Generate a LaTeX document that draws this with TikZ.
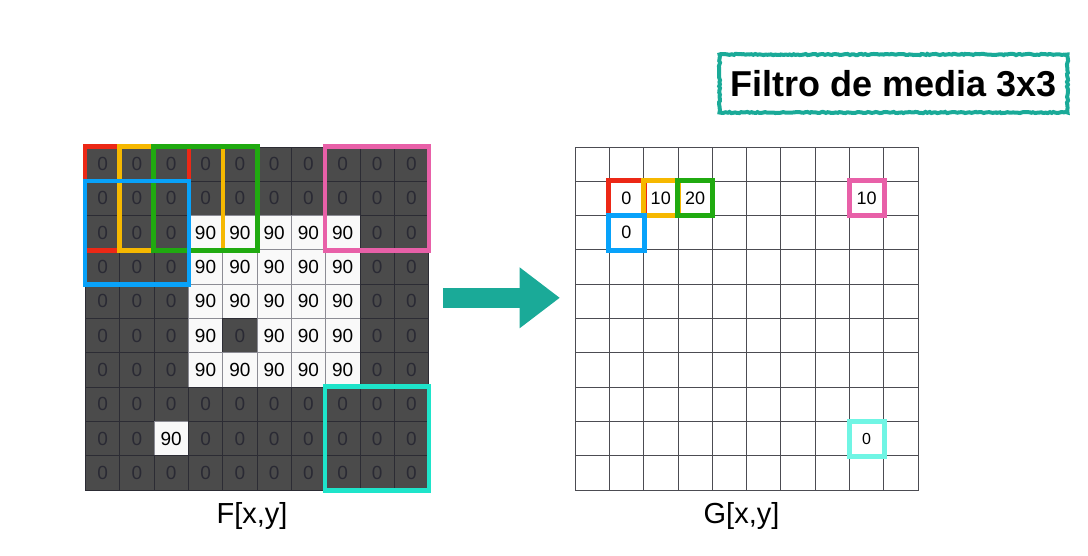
\documentclass[tikz,border=0pt]{standalone}
\usepackage{fontspec}
\setmainfont{Liberation Sans}
\usetikzlibrary{arrows.meta}
\usetikzlibrary{decorations.pathmorphing}
\definecolor{cellgray}{RGB}{75,75,75}
\definecolor{cellline}{RGB}{44,44,52}
\definecolor{celltext}{RGB}{42,42,52}
\definecolor{cellwhite}{RGB}{249,249,249}
\definecolor{whiteline}{RGB}{140,140,148}
\definecolor{wred}{RGB}{236,40,22}
\definecolor{worange}{RGB}{246,184,0}
\definecolor{wgreen}{RGB}{32,170,16}
\definecolor{wblue}{RGB}{8,162,250}
\definecolor{wpink}{RGB}{232,96,168}
\definecolor{wcyan}{RGB}{30,228,202}
\definecolor{wcyanlight}{RGB}{112,245,228}
\definecolor{teal}{RGB}{26,170,152}
\tikzstyle{fdark} = [draw=cellline,fill=cellgray,text=celltext,line width=0.8pt,inner sep=0pt,minimum size=34.3pt,font=\fontsize{19}{22}\selectfont]
\tikzstyle{flight} = [draw=whiteline,fill=cellwhite,text=black,line width=0.8pt,inner sep=0pt,minimum size=34.3pt,font=\fontsize{19}{22}\selectfont]
\tikzstyle{gcell} = [draw=cellline!85!white,fill=white,line width=0.8pt,inner sep=0pt,minimum size=34.3pt]
\tikzstyle{gval} = [inner sep=0pt,font=\fontsize{18}{20}\selectfont]
\tikzstyle{window} = [line width=4.5pt]
\tikzstyle{gwindow} = [line width=5pt]
\tikzstyle{caption} = [anchor=base,inner sep=0pt,font=\fontsize{29}{32}\selectfont]

\begin{document}
\begin{tikzpicture}[x=1pt,y=-1pt]
    \useasboundingbox (0,0) rectangle (1088,556);

    % input image F
    \foreach \row [count=\r from 0] in {
        {0,0,0,0,0,0,0,0,0,0},
        {0,0,0,0,0,0,0,0,0,0},
        {0,0,0,90,90,90,90,90,0,0},
        {0,0,0,90,90,90,90,90,0,0},
        {0,0,0,90,90,90,90,90,0,0},
        {0,0,0,90,0,90,90,90,0,0},
        {0,0,0,90,90,90,90,90,0,0},
        {0,0,0,0,0,0,0,0,0,0},
        {0,0,90,0,0,0,0,0,0,0},
        {0,0,0,0,0,0,0,0,0,0}} {
      \foreach \v [count=\c from 0] in \row {
        \ifnum\v=90 \def\cellstyle{flight}\else\def\cellstyle{fdark}\fi
        \node[\cellstyle] (F\r\c) at ({102.65+34.3*\c},{164.15+34.3*\r}) {\v};
      }
    }

    % output image G
    \foreach \r in {0,...,9} {
      \foreach \c in {0,...,9} {
        \node[gcell] (G\r\c) at ({592.15+34.3*\c},{164.15+34.3*\r}) {};
      }
    }
    \node[gval] (g-red)    at (G11) {0};
    \node[gval] (g-orange) at (G12) {10};
    \node[gval] (g-green)  at (G13) {20};
    \node[gval] (g-blue)   at (G21) {0};
    \node[gval] (g-pink)   at (G18) {10};
    \node[gval,font=\fontsize{16}{18}\selectfont] (g-cyan) at (G88) {0};

    % 3x3 windows
    \draw[window,wred]    (F00.north west) rectangle (F22.south east);
    \draw[window,worange] (F01.north west) rectangle (F23.south east);
    \draw[window,wgreen]  (F02.north west) rectangle (F24.south east);
    \draw[window,wblue]   (F10.north west) rectangle (F32.south east);
    \draw[window,wpink]   (F07.north west) rectangle (F29.south east);
    \draw[window,wcyan]   (F77.north west) rectangle (F99.south east);

    \draw[gwindow,wred]    (G11.north west) rectangle (G11.south east);
    \draw[gwindow,worange] (G12.north west) rectangle (G12.south east);
    \draw[gwindow,wgreen]  (G13.north west) rectangle (G13.south east);
    \draw[gwindow,wblue]   (G21.north west) rectangle (G21.south east);
    \draw[gwindow,wpink]   (G18.north west) rectangle (G18.south east);
    \draw[gwindow,wcyanlight] (G88.north west) rectangle (G88.south east);

    % arrow between the images
    \draw[line width=20pt,teal,-{Triangle[length=40pt,width=61pt,line width=0pt]}]
      ([xshift=14pt,yshift=-14pt]F40.north -| F49.east) -- ([xshift=-15pt,yshift=-14pt]F40.north -| G40.west);

    \node[caption] (Flabel) at (252,523) {F[x,y]};
    \node[caption] (Glabel) at (741.5,523) {G[x,y]};

    \node[draw=teal,line width=4pt,decorate,decoration={random steps,segment length=2pt,amplitude=0.6pt},
          minimum width=348pt,minimum height=58pt,inner sep=0pt,font=\fontsize{36}{40}\selectfont\bfseries]
      (title) at (893.5,83.5) {Filtro de media 3x3};
\end{tikzpicture}
\end{document}
